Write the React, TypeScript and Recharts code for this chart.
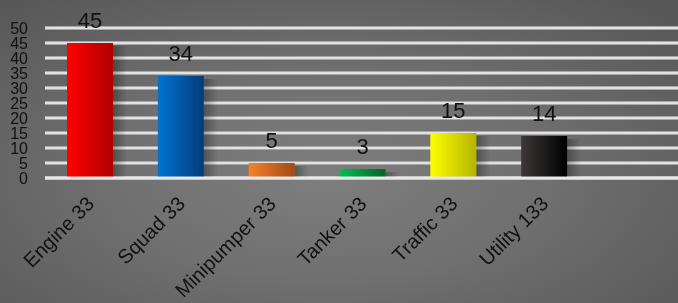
import { Bar, BarChart, CartesianGrid, LabelList, XAxis, YAxis } from 'recharts'

const categories = ['Engine 33', 'Squad 33', 'Minipumper 33', 'Tanker 33', 'Traffic 33', 'Utility 133']
const values = [45, 34, 5, 3, 15, 14]
const yTicks = [0, 5, 10, 15, 20, 25, 30, 35, 40, 45, 50]
const lightColors = ['#ff0000', '#0074d4', '#f5822a', '#00c050', '#ffff00', '#3c3838']
const darkColors = ['#b00000', '#003c78', '#a24a14', '#006628', '#b4b400', '#000000']

const data = categories.map((name, i) => ({ name, value: values[i] }))

const FONT = '"Liberation Sans", Arial, sans-serif'

const CylinderBar = (props: any) => {
  const { x, y, width, height, index } = props
  if (!height) return null
  return (
    <g>
      <rect x={x + width} y={y + 3} width={14} height={height - 3} fill='url(#barShadow)' />
      <rect x={x} y={y} width={width} height={height} fill={`url(#bar${index})`} />
    </g>
  )
}

const XTick = (props: any) => {
  const { x, y, payload } = props
  const tx = x + 5
  const ty = y + 27
  return (
    <text
      x={tx}
      y={ty}
      textAnchor='end'
      transform={`rotate(-45, ${tx}, ${ty})`}
      fontSize={20}
      fontFamily={FONT}
      fill='#111'
    >
      {payload.value}
    </text>
  )
}

export default function App() {
  return (
    <div
      style={{
        position: 'fixed',
        left: 0,
        top: 0,
        width: 678,
        height: 303,
        background:
          'radial-gradient(ellipse 70% 75% at 48% 58%, #7e7e7e 0%, #707070 45%, #585858 100%)',
      }}
    >
      <BarChart
        width={678}
        height={303}
        data={data}
        margin={{ top: 28, right: 0, left: 0, bottom: 0 }}
      >
        <defs>
          {lightColors.map((c, i) => (
            <linearGradient key={i} id={`bar${i}`} x1='0' y1='0' x2='1' y2='0'>
              <stop offset='0%' stopColor={c} />
              <stop offset='100%' stopColor={darkColors[i]} />
            </linearGradient>
          ))}
          <linearGradient id='barShadow' x1='0' y1='0' x2='1' y2='0'>
            <stop offset='0%' stopColor='#000' stopOpacity={0.3} />
            <stop offset='100%' stopColor='#000' stopOpacity={0} />
          </linearGradient>
        </defs>
        <CartesianGrid vertical={false} stroke='#a8a8a8' strokeWidth={4} />
        <CartesianGrid vertical={false} stroke='#e2e2e2' strokeWidth={2} />
        <XAxis
          dataKey='name'
          height={125}
          interval={0}
          tickLine={false}
          tickSize={0}
          tickMargin={0}
          axisLine={{ stroke: '#e8e8e8', strokeWidth: 3 }}
          padding={{ left: 0, right: 88 }}
          tick={<XTick />}
        />
        <YAxis
          width={45}
          domain={[0, 50]}
          ticks={yTicks}
          interval={0}
          axisLine={false}
          tickLine={false}
          tickSize={0}
          tickMargin={17}
          tick={{ fontSize: 16, fill: '#111', fontFamily: FONT }}
        />
        <Bar dataKey='value' barSize={46} shape={<CylinderBar />} isAnimationActive={false}>
          <LabelList
            dataKey='value'
            position='top'
            offset={15}
            fill='#111'
            fontSize={22}
            fontFamily={FONT}
          />
        </Bar>
      </BarChart>
    </div>
  )
}
